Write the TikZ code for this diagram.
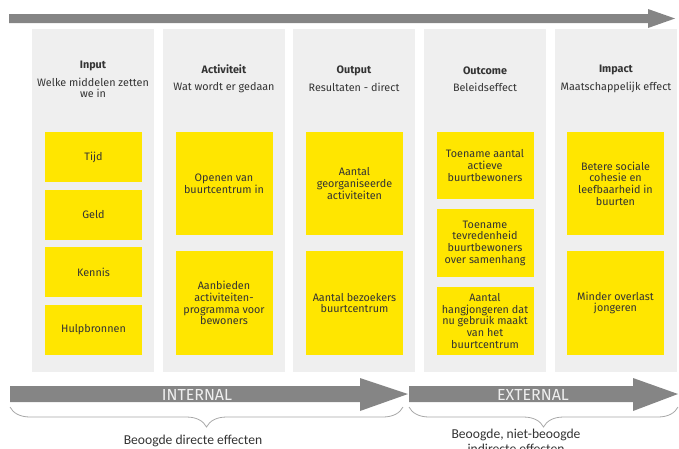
\documentclass[tikz,border=0pt]{standalone}
\usepackage{fontspec}
\setmainfont{Fira Sans}
\newfontfamily\carlito{Carlito}
\usetikzlibrary{decorations.pathreplacing}
\definecolor{eyyellow}{HTML}{FFE600}
\definecolor{colgray}{HTML}{EFEFEF}
\definecolor{arrowgray}{HTML}{858585}
\definecolor{textgray}{HTML}{333333}
\definecolor{bandwhite}{HTML}{EEEEEE}
\definecolor{bracegray}{HTML}{A8A8A8}

\begin{document}
\begin{tikzpicture}[x=1pt,y=-1pt,
  column/.style={fill=colgray, anchor=north west, minimum width=122pt, minimum height=343pt, inner sep=0pt},
  heading/.style={text=textgray, align=center, font=\fontsize{10.8}{10.7}\selectfont},
  card/.style={fill=eyyellow, text=textgray, align=center, minimum width=97pt, inner sep=0pt, font=\fontsize{10.8}{11.7}\selectfont},
  bandtext/.style={text=bandwhite, font=\fontsize{16}{16}\selectfont},
  bracket/.style={draw=bracegray, line width=0.8pt, decorate, decoration={brace, amplitude=20pt}},
  effect/.style={text=textgray, align=center, font=\carlito\fontsize{13.6}{15}\selectfont}
]
\useasboundingbox (0,0) rectangle (679,448);
\clip (0,0) rectangle (679,448);

% time arrow on top
\fill[arrowgray] (9,14) -- (648,14) -- (648,9) -- (675,18.5) -- (648,28) -- (648,23) -- (9,23) -- cycle;

% columns
\node[column] (colinput) at (32,29) {};
\node[column] (colactivity) at (163,29) {};
\node[column] (coloutput) at (293,29) {};
\node[column] (coloutcome) at (424,29) {};
\node[column] (colimpact) at (555,29) {};

% headings
\node[heading] (hinput) at (93,79) {\textbf{Input}\\[6.3pt]Welke middelen zetten\\we in};
\node[heading] (hactivity) at (224,79) {\textbf{Activiteit}\\[6.3pt]Wat wordt er gedaan};
\node[heading] (houtput) at (354,79) {\textbf{Output}\\[6.3pt]Resultaten - direct};
\node[heading] (houtcome) at (485,79) {\textbf{Outcome}\\[6.3pt]Beleidseffect};
\node[heading] (himpact) at (616,79) {\textbf{Impact}\\[6.3pt]Maatschappelijk effect};

% input cards
\node[card, minimum height=50pt] (tijd) at (93.5,157) {Tijd};
\node[card, minimum height=50pt] (geld) at (93.5,214.5) {Geld};
\node[card, minimum height=50pt] (kennis) at (93.5,272) {Kennis};
\node[card, minimum height=50pt] (hulp) at (93.5,330) {Hulpbronnen};

% activity cards
\node[card, minimum height=103pt] (openen) at (224,183.5) {Openen van\\buurtcentrum in};
\node[card, minimum height=104pt] (aanbieden) at (224,303) {Aanbieden\\activiteiten-\\programma voor\\bewoners};

% output cards
\node[card, minimum height=103pt] (georg) at (354.5,183.5) {Aantal\\georganiseerde\\activiteiten};
\node[card, minimum height=104pt] (bezoekers) at (354.5,303) {Aantal bezoekers\\buurtcentrum};

% outcome cards
\node[card, minimum height=67pt] (actief) at (485,165.5) {Toename aantal\\actieve\\buurtbewoners};
\node[card, minimum height=68pt] (tevreden) at (485,243) {Toename\\tevredenheid\\buurtbewoners\\over samenhang};
\node[card, minimum height=68pt] (hangjong) at (485,321) {Aantal\\hangjongeren dat\\nu gebruik maakt\\van het\\buurtcentrum};

% impact cards
\node[card, minimum height=103pt] (cohesie) at (615.5,183.5) {Betere sociale\\cohesie en\\leefbaarheid in\\buurten};
\node[card, minimum height=104pt] (overlast) at (615.5,303) {Minder overlast\\jongeren};

% internal / external arrows
\fill[arrowgray] (10,386) -- (360,386) -- (360,378) -- (408,394) -- (360,411) -- (360,402) -- (10,402) -- cycle;
\fill[arrowgray] (409,386) -- (633,386) -- (633,378) -- (678,394) -- (633,411) -- (633,402) -- (409,402) -- cycle;
\node[bandtext] (internal) at (197,394.5) {INTERNAL};
\node[bandtext] (external) at (533,394.5) {EXTERNAL};

% braces
\draw[bracket] (403,407) -- (10,407);
\draw[bracket] (678,407) -- (409,407);
\node[effect] (direct) at (193,441) {Beoogde directe effecten};
\node[effect, anchor=north] (indirect) at (516,426) {Beoogde, niet-beoogde\\indirecte effecten};

\end{tikzpicture}
\end{document}
